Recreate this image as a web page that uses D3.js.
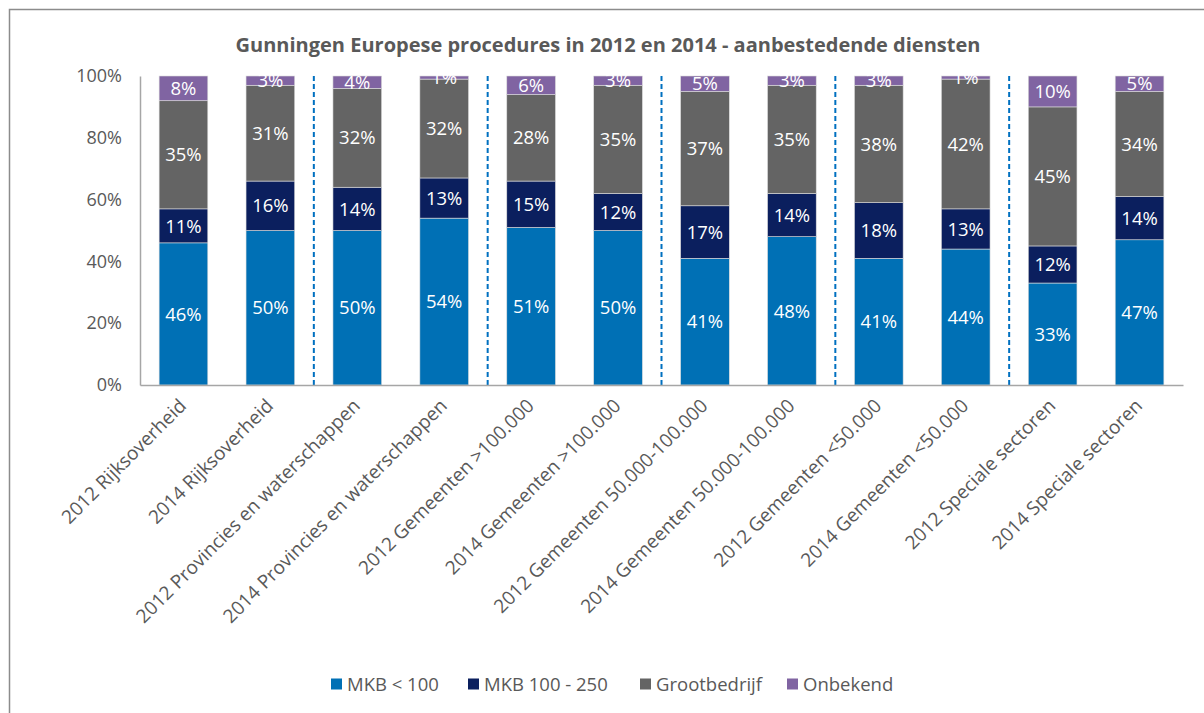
<!DOCTYPE html>
<html>
<head>
<meta charset="utf-8">
<script src="https://cdn.jsdelivr.net/npm/d3@7"></script>
<style>
  html, body { margin: 0; padding: 0; background: #fff; }
  svg text { font-family: "Open Sans", "Noto Sans", sans-serif; }
</style>
</head>
<body>
<svg id="chart" width="1204" height="713"></svg>
<script>
const categories = [
  "2012 Rijksoverheid", "2014 Rijksoverheid",
  "2012 Provincies en waterschappen", "2014 Provincies en waterschappen",
  "2012 Gemeenten >100.000", "2014 Gemeenten >100.000",
  "2012 Gemeenten 50.000-100.000", "2014 Gemeenten 50.000-100.000",
  "2012 Gemeenten <50.000", "2014 Gemeenten <50.000",
  "2012 Speciale sectoren", "2014 Speciale sectoren"
];
const seriesNames = ["MKB < 100", "MKB 100 - 250", "Grootbedrijf", "Onbekend"];
const mkbSmall   = [46, 50, 50, 54, 51, 50, 41, 48, 41, 44, 33, 47];
const mkbMid     = [11, 16, 14, 13, 15, 12, 17, 14, 18, 13, 12, 14];
const groot      = [35, 31, 32, 32, 28, 35, 37, 35, 38, 42, 45, 34];
const onbekend   = [ 8,  3,  4,  1,  6,  3,  5,  3,  3,  1, 10,  5];
const yTicks = [0, 20, 40, 60, 80, 100];
const separatorsAfter = [2, 4, 6, 8, 10];
const colors = ["#0070B5", "#0B1F5E", "#646464", "#8064A2"];

const seriesValues = [mkbSmall, mkbMid, groot, onbekend];
const rows = categories.map((c, i) => {
  const r = { cat: c };
  seriesNames.forEach((s, k) => r[s] = seriesValues[k][i]);
  return r;
});

const svg = d3.select("#chart");
const margin = { left: 140, right: 1183, top: 76, bottom: 385 };

// outer border
svg.append("rect").attr("x", 9.5).attr("y", 9.5).attr("width", 1300).attr("height", 800)
  .attr("fill", "none").attr("stroke", "#8c8c8c").attr("stroke-width", 1.5);

svg.append("text").attr("x", 608).attr("y", 52).attr("text-anchor", "middle")
  .attr("font-size", 20).attr("font-weight", "bold").attr("fill", "#595959")
  .text("Gunningen Europese procedures in 2012 en 2014 - aanbestedende diensten");

const x = d3.scaleBand().domain(categories).range([margin.left, margin.right]).paddingInner(0.44).paddingOuter(0.22);
const y = d3.scaleLinear().domain([0, 100]).range([margin.bottom, margin.top]);

const stack = d3.stack().keys(seriesNames)(rows);

// y tick labels
const yAxis = d3.axisLeft(y).tickValues(yTicks).tickFormat(d => d + "%").tickSize(0).tickPadding(18);
const yg = svg.append("g").attr("transform", `translate(${margin.left},0)`).call(yAxis);
yg.select(".domain").attr("stroke", "#a6a6a6").attr("stroke-width", 1.5);
yg.selectAll("text").attr("font-size", 18).attr("fill", "#595959").attr("font-family", "\"Open Sans\", sans-serif");

// bars
const layers = svg.append("g").selectAll("g").data(stack).join("g")
  .attr("fill", (d, i) => colors[i]);
layers.selectAll("rect").data(d => d).join("rect")
  .attr("x", d => x(d.data.cat))
  .attr("width", x.bandwidth())
  .attr("y", d => y(d[1]))
  .attr("height", d => y(d[0]) - y(d[1]))
  .attr("stroke", "#dcdcdc").attr("stroke-width", 0.6);

// value labels
svg.append("g").selectAll("g").data(stack).join("g")
  .selectAll("text").data(d => d.map(v => ({ v, key: d.key })).filter(o => o.v[1] - o.v[0] > 0)).join("text")
  .attr("x", o => x(o.v.data.cat) + x.bandwidth() / 2)
  .attr("y", o => y((o.v[0] + o.v[1]) / 2))
  .attr("dy", "0.36em")
  .attr("text-anchor", "middle")
  .attr("font-size", 18.5)
  .attr("fill", "#ffffff")
  .text(o => (o.v[1] - o.v[0]) + "%");

// separators
svg.append("g").selectAll("line").data(separatorsAfter).join("line")
  .attr("x1", i => margin.left + (margin.right - margin.left) * i / categories.length)
  .attr("x2", i => margin.left + (margin.right - margin.left) * i / categories.length)
  .attr("y1", y(100)).attr("y2", y(0))
  .attr("stroke", "#0070C0").attr("stroke-width", 2).attr("stroke-dasharray", "5,3");

// x axis
const xg = svg.append("g").attr("transform", `translate(0,${margin.bottom})`)
  .call(d3.axisBottom(x).tickSize(0).tickPadding(0));
xg.select(".domain").attr("stroke", "#a6a6a6").attr("stroke-width", 1.5);
xg.selectAll("text")
  .attr("font-size", 19).attr("fill", "#595959").attr("font-family", "\"Open Sans\", sans-serif")
  .attr("text-anchor", "end")
  .attr("dy", "0")
  .attr("transform", "translate(4,22) rotate(-45)");

// legend
const legendX = [331, 468, 640, 787];
const lg = svg.append("g").selectAll("g").data(seriesNames).join("g")
  .attr("transform", (d, i) => `translate(${legendX[i]},684)`);
lg.append("rect").attr("x", 0).attr("y", -5.5).attr("width", 11).attr("height", 11)
  .attr("fill", (d, i) => colors[i]);
lg.append("text").attr("x", 16).attr("y", 0).attr("dy", "0.36em")
  .attr("font-size", 18.5).attr("fill", "#595959").text(d => d);
</script>
</body>
</html>
